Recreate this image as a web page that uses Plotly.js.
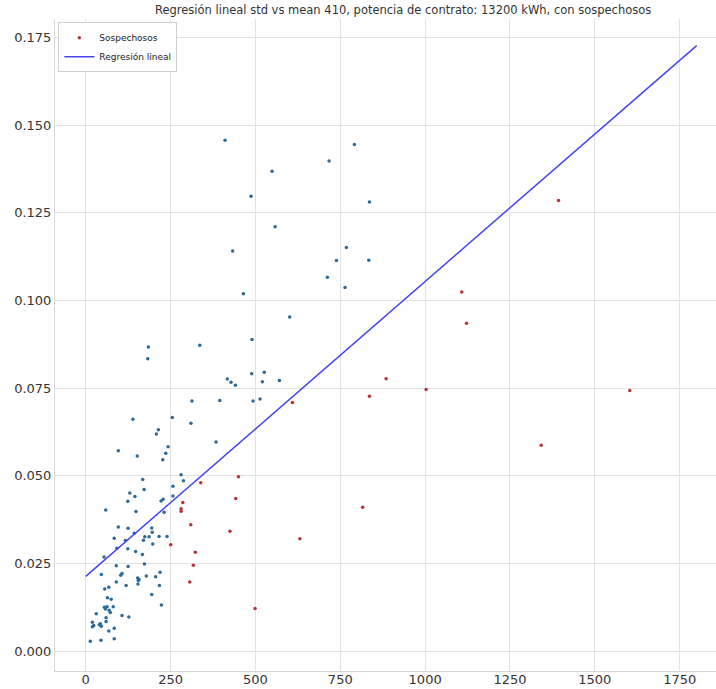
<!DOCTYPE html>
<html>
<head>
<meta charset="utf-8">
<script src="https://cdn.plot.ly/plotly-3.0.1.min.js"></script>
<style>html,body{margin:0;padding:0;background:#fff;}#chart{width:716px;height:689px;}</style>
</head>
<body>
<div id="chart"></div>
<script>
// Non-suspicious points (mean, std)
const normalX = [410.5,791.7,717,549,487,836,558,433,768,738.6,834,712,764,464.5,601,490,184.6,182.7,336,489,526,417,428,441,520.5,570.6,313,395,493,513.7,139,255,310,384,281,288,96,208,214,152,242.6,235.8,227,257,168,172,130,145,124,148,59,228,222,257,231,96,124.7,84,143,194.5,196,174,186.6,170,216,239.6,197.5,117,92,124,147,167,173,90,125,54,46,178.6,219,206,107,103,90,153,157,155,119,154,68,56,217,194.5,223,64,75,55,58,63,69,81,72.5,31,60,107,127,19.6,19.6,23.6,43,46,40,60,84,68,13.6,45,84];
const normalY = [0.1457,0.1445,0.1398,0.1369,0.1297,0.1281,0.1210,0.1141,0.1151,0.1114,0.1115,0.1066,0.1037,0.1019,0.0953,0.0889,0.0867,0.0834,0.0872,0.0791,0.0795,0.0776,0.0767,0.0758,0.0768,0.0772,0.0713,0.0715,0.0713,0.0719,0.0661,0.0666,0.065,0.0596,0.0503,0.0486,0.0571,0.0619,0.0631,0.0556,0.0583,0.0564,0.0546,0.047,0.0489,0.0461,0.0451,0.0441,0.0427,0.0398,0.0402,0.0433,0.0428,0.0442,0.0396,0.0354,0.035,0.0322,0.0336,0.0351,0.0339,0.0326,0.0326,0.0316,0.0327,0.0327,0.0305,0.0315,0.0293,0.0292,0.0284,0.0275,0.0248,0.0243,0.0241,0.0268,0.0218,0.0214,0.0225,0.0212,0.0221,0.0216,0.0197,0.0208,0.0204,0.0201,0.0187,0.0191,0.0182,0.0177,0.0187,0.0161,0.0131,0.0152,0.0148,0.0125,0.012,0.0126,0.0116,0.0126,0.011,0.0106,0.0095,0.0101,0.0097,0.0082,0.0069,0.0073,0.0078,0.0071,0.0075,0.0084,0.0065,0.0057,0.0028,0.0031,0.0035];

// Suspicious points
const suspX = [1393,1108,1122,885,1003,1603,836,609,1342,339,450,442,286,281,281,309.5,425,631,816,323,317,306.5,499,250.5];
const suspY = [0.1285,0.1024,0.0935,0.0777,0.0746,0.0743,0.0727,0.0709,0.0587,0.048,0.0497,0.0435,0.0424,0.0406,0.0399,0.036,0.0342,0.032,0.041,0.0282,0.0245,0.0197,0.0121,0.0303];

// Regression line endpoints
const lineX = [0, 1800];
const lineY = [0.0213, 0.1727];

const xTicks = [0,250,500,750,1000,1250,1500,1750];
const yTicks = [0,0.025,0.05,0.075,0.1,0.125,0.15,0.175];
const yTickText = ['0.000','0.025','0.050','0.075','0.100','0.125','0.150','0.175'];

const titleText = 'Regresión lineal std vs mean 410, potencia de contrato: 13200 kWh, con sospechosos';

const traces = [
  {x: normalX, y: normalY, mode: 'markers', type: 'scatter', showlegend: false,
   marker: {size: 3.5, color: '#2b6a9a'}},
  {x: suspX, y: suspY, mode: 'markers', type: 'scatter', name: 'Sospechosos',
   marker: {size: 3.5, color: '#bb3038'}},
  {x: lineX, y: lineY, mode: 'lines', type: 'scatter', name: 'Regresión lineal',
   line: {color: '#4646ee', width: 1.5}}
];

const layout = {
  width: 716, height: 689,
  margin: {l: 55, r: 0, t: 19, b: 18},
  paper_bgcolor: '#fff', plot_bgcolor: '#fff',
  font: {family: 'DejaVu Sans, sans-serif', color: '#333'},
  title: {text: titleText, font: {size: 11.5, color: '#333'}, xref: 'container', x: 0.563, xanchor: 'center', yref: 'container', y: 0.985, yanchor: 'middle'},
  xaxis: {range: [-90.5, 1857], tickvals: xTicks, ticktext: xTicks.map(String),
    showgrid: true, gridcolor: '#e3e3e3', zeroline: false,
    showline: true, linecolor: '#d8d8d8', linewidth: 1, ticks: '',
    ticklabelstandoff: -4,
    tickfont: {size: 13, color: '#333'}},
  yaxis: {range: [-0.0057, 0.1803], tickvals: yTicks, ticktext: yTickText,
    showgrid: true, gridcolor: '#e3e3e3', zeroline: false,
    showline: true, linecolor: '#d8d8d8', linewidth: 1, ticks: '',
    tickfont: {size: 13, color: '#333'}},
  legend: {x: 0.005, y: 0.995, xanchor: 'left', yanchor: 'top',
    bgcolor: 'rgba(255,255,255,0.9)', bordercolor: '#d0d0d0', borderwidth: 1,
    font: {size: 9, color: '#222'}, tracegroupgap: 0, itemwidth: 30}
};

Plotly.newPlot('chart', traces, layout, {displayModeBar: false, staticPlot: true});
</script>
</body>
</html>
